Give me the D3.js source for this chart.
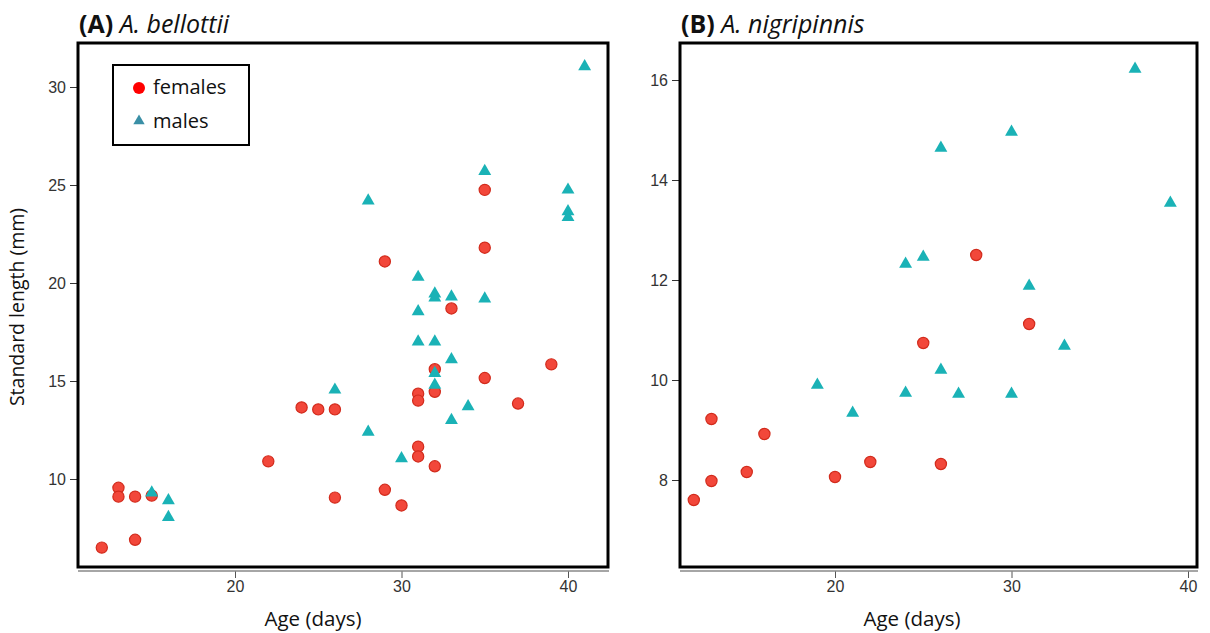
<!DOCTYPE html>
<html>
<head>
<meta charset="utf-8">
<script src="https://cdn.jsdelivr.net/npm/d3@7"></script>
<style>
  body { margin: 0; background: #fff; }
  svg { display: block; }
  .lbl { font-family: "Open Sans", Lato, sans-serif; fill: #111; }
</style>
</head>
<body>
<script>
// panel A - A. bellottii
var aFemAge = [12,13,13,14,14,15,22,24,25,26,26,29,29,30,31,31,31,31,32,32,32,33,35,35,35,37,39];
var aFemLen = [6.5,9.55,9.1,9.1,6.9,9.15,10.9,13.65,13.55,13.55,9.05,21.1,9.45,8.65,14.35,14.0,11.65,11.15,15.6,14.45,10.65,18.7,24.75,21.8,15.15,13.85,15.85];
var aMaleAge = [15,16,16,26,28,28,30,31,31,31,32,32,32,32,32,33,33,33,34,35,35,40,40,40,41];
var aMaleLen = [9.3,8.9,8.05,14.55,12.4,24.2,11.05,20.3,18.55,17.0,19.45,19.25,17.0,15.4,14.8,19.3,16.1,13.0,13.7,25.7,19.2,24.75,23.65,23.35,31.05];
var aXTicks = [20,30,40];
var aYTicks = [10,15,20,25,30];

// panel B - A. nigripinnis
var bFemAge = [12,13,13,15,16,20,22,25,26,28,31];
var bFemLen = [7.6,7.98,9.22,8.16,8.92,8.06,8.36,10.74,8.32,12.5,11.12];
var bMaleAge = [19,21,24,24,25,26,26,27,30,30,31,33,37,39];
var bMaleLen = [9.9,9.34,12.32,9.74,12.46,14.64,10.2,9.72,14.96,9.72,11.88,10.68,16.22,13.54];
var bXTicks = [20,30,40];
var bYTicks = [8,10,12,14,16];

var femColor = "#f2473a", femStroke = "#d22b1c";
var maleColor = "#1ab2b6";

var svg = d3.select("body").append("svg")
  .attr("width", 1210)
  .attr("height", 633);

function zip(a, b){ return a.map(function(v,i){ return {x:v, y:b[i]}; }); }

var panels = [
  {tag:"(A)", name:"A. bellottii", box:[78,43,608,567], xlab:313,
   x:d3.scaleLinear().domain([20,40]).range([235,568]),
   y:d3.scaleLinear().domain([10,30]).range([479,87]),
   xt:aXTicks, yt:aYTicks, fem:zip(aFemAge,aFemLen), male:zip(aMaleAge,aMaleLen)},
  {tag:"(B)", name:"A. nigripinnis", box:[680,43,1197,567], xlab:912,
   x:d3.scaleLinear().domain([20,40]).range([835,1188]),
   y:d3.scaleLinear().domain([8,16]).range([480,80]),
   xt:bXTicks, yt:bYTicks, fem:zip(bFemAge,bFemLen), male:zip(bMaleAge,bMaleLen)}
];

function styleTicks(sel){
  sel.attr("font-family","Liberation Sans, Arial, sans-serif").attr("font-size",16);
  sel.selectAll(".tick text").attr("fill","#333");
}

panels.forEach(function(p){
  var b = p.box;
  var g = svg.append("g");

  // x axis sits just under the box
  var xa = g.append("g")
    .attr("transform","translate(0,"+(b[3]+4)+")")
    .call(d3.axisBottom(p.x).tickValues(p.xt).tickSize(7).tickPadding(3).tickSizeOuter(0));
  xa.select(".domain").remove();
  xa.selectAll(".tick line").attr("stroke","#555");
  styleTicks(xa);
  g.append("line")
    .attr("x1",b[0]).attr("x2",b[2]+1)
    .attr("y1",b[3]+4).attr("y2",b[3]+4)
    .attr("stroke","#888").attr("stroke-width",1.6);

  var ya = g.append("g")
    .attr("transform","translate("+b[0]+",0)")
    .call(d3.axisLeft(p.y).tickValues(p.yt).tickSize(8).tickPadding(4));
  ya.select(".domain").remove();
  ya.selectAll(".tick line").attr("stroke","#333");
  styleTicks(ya);

  // points
  g.selectAll(".fem")
    .data(p.fem)
    .enter().append("circle")
    .attr("class","fem")
    .attr("cx",function(d){ return p.x(d.x); })
    .attr("cy",function(d){ return p.y(d.y); })
    .attr("r",5.6)
    .style("fill",femColor)
    .style("stroke",femStroke)
    .style("stroke-width",1.2);

  g.selectAll(".male")
    .data(p.male)
    .enter().append("path")
    .attr("class","male")
    .attr("d",d3.symbol().type(d3.symbolTriangle).size(72))
    .attr("transform",function(d){ return "translate("+p.x(d.x)+","+p.y(d.y)+")"; })
    .style("fill",maleColor);

  g.append("rect")
    .attr("x",b[0]).attr("y",b[1])
    .attr("width",b[2]-b[0]).attr("height",b[3]-b[1])
    .attr("fill","none").attr("stroke","#000").attr("stroke-width",3);

  var t = g.append("text").attr("class","lbl")
    .attr("x",b[0]+1).attr("y",33)
    .style("font-size","25px");
  t.append("tspan").style("font-weight","bold").text(p.tag);
  t.append("tspan").style("font-style","italic").text(" "+p.name);

  g.append("text").attr("class","lbl")
    .attr("x",p.xlab).attr("y",626)
    .attr("text-anchor","middle")
    .style("font-size","20.5px")
    .text("Age (days)");
});

svg.append("text").attr("class","lbl")
  .attr("transform","translate(24,307) rotate(-90)")
  .attr("text-anchor","middle")
  .style("font-size","19.5px")
  .text("Standard length (mm)");

// legend
var leg = svg.append("g");
leg.append("rect")
  .attr("x",113).attr("y",65).attr("width",136).attr("height",80)
  .attr("fill","#fff").attr("stroke","#000").attr("stroke-width",2);
leg.append("circle").attr("cx",139).attr("cy",88).attr("r",6).style("fill","#ff0000");
leg.append("path")
  .attr("d",d3.symbol().type(d3.symbolTriangle).size(56))
  .attr("transform","translate(139,121)")
  .style("fill","#3a8fa6");
leg.append("text").attr("class","lbl").attr("x",153).attr("y",94).style("font-size","20px").text("females");
leg.append("text").attr("class","lbl").attr("x",153).attr("y",128).style("font-size","20px").text("males");
</script>
</body>
</html>
